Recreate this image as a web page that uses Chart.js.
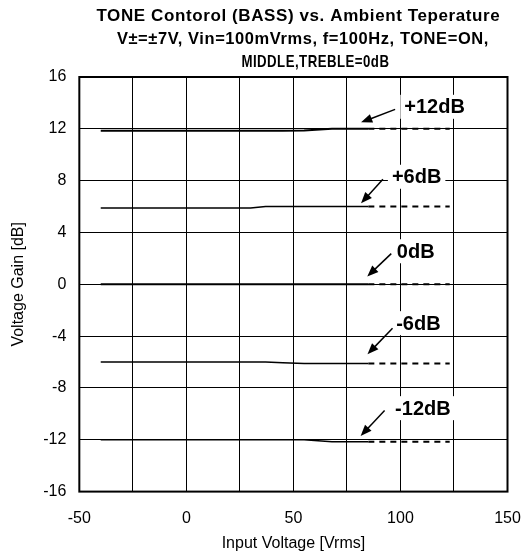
<!DOCTYPE html>
<html>
<head>
<meta charset="utf-8">
<script src="https://cdn.jsdelivr.net/npm/chart.js@4.4.1/dist/chart.umd.min.js"></script>
<style>
    html, body { margin: 0; padding: 0; background: #fff; }
    #wrap { width: 522px; height: 557px; }
</style>
</head>
<body>
<div id="wrap"><canvas id="toneChart"></canvas></div>
<script>
    'use strict';

    var titleLines = [
        'TONE Contorol (BASS) vs. Ambient Teperature',
        'V\u00b1=\u00b17V, Vin=100mVrms, f=100Hz, TONE=ON,',
        'MIDDLE,TREBLE=0dB'
    ];

    // measured part (solid) and extrapolated part (dashed)
    var solidInput = [-40, 30, 37, 45, 55, 68, 85];
    var dashInput = [85, 123];

    var gainPlus12 = [11.85, 11.85, 11.85, 11.85, 11.87, 12.0, 12.0];
    var gainPlus6 = [5.88, 5.88, 6.0, 6.0, 6.0, 6.0, 6.0];
    var gainZero = [0, 0, 0, 0, 0, 0, 0];
    var gainMinus6 = [-6.0, -6.0, -6.0, -6.05, -6.12, -6.12, -6.12];
    var gainMinus12 = [-12.0, -12.0, -12.0, -12.0, -12.0, -12.15, -12.15];

    var dashPlus12 = [12.0, 12.0];
    var dashPlus6 = [6.0, 6.0];
    var dashZero = [0, 0];
    var dashMinus6 = [-6.12, -6.12];
    var dashMinus12 = [-12.15, -12.15];

    var curveLabels = ['+12dB', '+6dB', '0dB', '-6dB', '-12dB'];
    // label anchor (left, middle) and arrow from -> to, in data units
    var labelX = [101.8, 96.0, 98.3, 98.0, 97.5];
    var labelY = [13.7, 8.3, 2.55, -3.0, -9.56];
    var arrowFromX = [97.5, 91.8, 95.7, 96.3, 92.6];
    var arrowFromY = [13.5, 8.1, 2.37, -3.4, -9.74];
    var arrowToX = [81.6, 81.6, 84.5, 84.6, 81.4];
    var arrowToY = [12.5, 6.25, 0.6, -5.4, -11.7];

    var xTicksMin = -50, xTicksMax = 150, xGridStep = 25, xLabelStep = 50;
    var yTicksMin = -16, yTicksMax = 16, yStep = 4;

    function toPoints(xs, ys) {
        return xs.map(function (x, i) { return { x: x, y: ys[i] }; });
    }

    function solidSet(ys, width) {
        return {
            data: toPoints(solidInput, ys),
            borderColor: '#000',
            borderWidth: width,
            pointRadius: 0,
            tension: 0
        };
    }

    function dashSet(ys) {
        return {
            data: toPoints(dashInput, ys),
            borderColor: '#000',
            borderWidth: 2,
            borderDash: [6, 5],
            pointRadius: 0
        };
    }

    var titlePlugin = {
        id: 'multiTitle',
        afterDraw: function (chart) {
            var ctx = chart.ctx;
            var area = chart.chartArea;
            var cx = (area.left + area.right) / 2;
            var shift = [5, 9.5, 22];
            var maxW = [404, 372, 148];
            ctx.save();
            ctx.fillStyle = '#000';
            ctx.font = 'bold 17px "Liberation Sans", Arial, sans-serif';
            ctx.letterSpacing = '0.6px';
            ctx.textAlign = 'center';
            ctx.textBaseline = 'middle';
            titleLines.forEach(function (line, i) {
                ctx.fillText(line, cx + shift[i], 16 + i * 23, maxW[i]);
            });
            ctx.restore();
        }
    };

    var calloutPlugin = {
        id: 'callouts',
        afterDatasetsDraw: function (chart) {
            var ctx = chart.ctx;
            var xs = chart.scales.x;
            var ys = chart.scales.y;
            ctx.save();
            ctx.font = 'bold 20px "Liberation Sans", Arial, sans-serif';
            ctx.textBaseline = 'middle';
            ctx.textAlign = 'left';
            curveLabels.forEach(function (label, i) {
                var tx = xs.getPixelForValue(labelX[i]);
                var ty = ys.getPixelForValue(labelY[i]);
                var w = ctx.measureText(label).width;
                ctx.fillStyle = '#fff';
                ctx.fillRect(tx - 4, ty - 12, w + 8, 24);
                ctx.fillStyle = '#000';
                ctx.fillText(label, tx, ty + 1);

                var x1 = xs.getPixelForValue(arrowFromX[i]);
                var y1 = ys.getPixelForValue(arrowFromY[i]);
                var x2 = xs.getPixelForValue(arrowToX[i]);
                var y2 = ys.getPixelForValue(arrowToY[i]);
                var ang = Math.atan2(y2 - y1, x2 - x1);
                var head = 12;
                ctx.strokeStyle = '#000';
                ctx.lineWidth = 1.5;
                ctx.beginPath();
                ctx.moveTo(x1, y1);
                ctx.lineTo(x2 - Math.cos(ang) * head * 0.8, y2 - Math.sin(ang) * head * 0.8);
                ctx.stroke();
                ctx.beginPath();
                ctx.moveTo(x2, y2);
                ctx.lineTo(x2 - head * Math.cos(ang - 0.38), y2 - head * Math.sin(ang - 0.38));
                ctx.lineTo(x2 - head * Math.cos(ang + 0.38), y2 - head * Math.sin(ang + 0.38));
                ctx.closePath();
                ctx.fill();
            });
            ctx.restore();
        },
        afterDraw: function (chart) {
            var a = chart.chartArea;
            var ctx = chart.ctx;
            ctx.save();
            ctx.strokeStyle = '#000';
            ctx.lineWidth = 2;
            ctx.strokeRect(a.left, a.top, a.right - a.left, a.bottom - a.top);
            ctx.restore();
        }
    };

    Chart.defaults.font.family = '"Liberation Sans", Arial, sans-serif';
    Chart.defaults.color = '#000';

    new Chart(document.getElementById('toneChart'), {
        type: 'line',
        data: {
            datasets: [
                solidSet(gainPlus12, 2), dashSet(dashPlus12),
                solidSet(gainPlus6, 1.5), dashSet(dashPlus6),
                solidSet(gainZero, 2), dashSet(dashZero),
                solidSet(gainMinus6, 1.5), dashSet(dashMinus6),
                solidSet(gainMinus12, 1.5), dashSet(dashMinus12)
            ]
        },
        options: {
            responsive: true,
            maintainAspectRatio: false,
            animation: false,
            layout: {
                padding: { top: 77, right: 14.5, bottom: 0, left: 8 }
            },
            plugins: {
                legend: { display: false },
                tooltip: { enabled: false }
            },
            scales: {
                x: {
                    type: 'linear',
                    min: xTicksMin,
                    max: xTicksMax,
                    grid: { color: '#000', lineWidth: 1, drawTicks: false },
                    border: { display: false },
                    afterFit: function (scale) {
                        scale.paddingLeft = 0;
                        scale.paddingRight = 0;
                    },
                    ticks: {
                        stepSize: xGridStep,
                        padding: 17,
                        maxRotation: 0,
                        autoSkip: false,
                        font: { size: 16 },
                        callback: function (value) {
                            return value % xLabelStep === 0 ? String(value) : '';
                        }
                    },
                    title: {
                        display: true,
                        text: 'Input Voltage [Vrms]',
                        font: { size: 16 },
                        padding: { top: -11, bottom: 4 }
                    }
                },
                y: {
                    min: yTicksMin,
                    max: yTicksMax,
                    grid: { color: '#000', lineWidth: 1, drawTicks: false },
                    border: { display: false },
                    ticks: {
                        stepSize: yStep,
                        padding: 13,
                        font: { size: 16 }
                    },
                    title: {
                        display: true,
                        text: 'Voltage Gain [dB]',
                        font: { size: 16 },
                        padding: { top: 1, bottom: 2 }
                    }
                }
            }
        },
        plugins: [titlePlugin, calloutPlugin]
    });
</script>
</body>
</html>
